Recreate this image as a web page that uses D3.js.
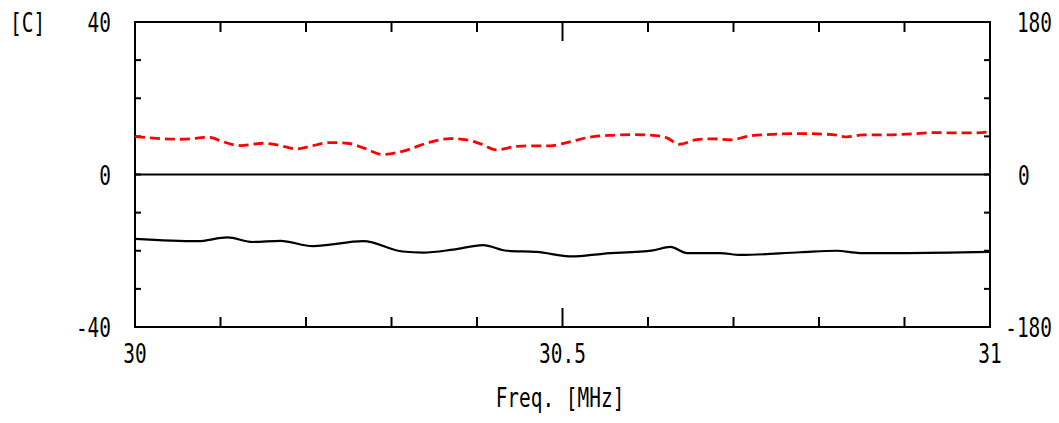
<!DOCTYPE html>
<html>
<head>
<meta charset="utf-8">
<script src="https://cdn.jsdelivr.net/npm/d3@7"></script>
<style>
  body { margin: 0; background: #fff; }
  text { font-family: "DejaVu Sans Mono", monospace; fill: #000; }
</style>
</head>
<body>
<div id="main-vis"></div>
<script>
// frequency axis ticks / labels
var xTicks = [30, 30.1, 30.2, 30.3, 30.4, 30.5, 30.6, 30.7, 30.8, 30.9, 31];
var xLabels = [30, 30.5, 31];
var yLeftTicks = [-40, -30, -20, -10, 0, 10, 20, 30, 40];
var yLeftLabels = [-40, 0, 40];
var yRightLabels = [-180, 0, 180];

// black solid trace (left axis, [C])
var magFreq = [30.000, 30.073, 30.108, 30.138, 30.170, 30.208, 30.267, 30.313, 30.337, 30.372,
  30.407, 30.435, 30.470, 30.511, 30.547, 30.606, 30.626, 30.646, 30.684, 30.708,
  30.778, 30.821, 30.848, 30.895, 31.000];
var magVal = [-16.9, -17.5, -16.5, -17.7, -17.4, -18.8, -17.5, -20.2, -20.5, -19.7,
  -18.5, -20.0, -20.3, -21.5, -20.8, -19.9, -19.0, -20.6, -20.6, -21.1,
  -20.4, -20.0, -20.6, -20.6, -20.3];

// red dashed trace (right axis, degrees)
var phFreq = [30.000, 30.018, 30.053, 30.088, 30.099, 30.123, 30.150, 30.166, 30.189, 30.205,
  30.228, 30.248, 30.267, 30.290, 30.313, 30.345, 30.368, 30.388, 30.404, 30.423,
  30.447, 30.465, 30.485, 30.505, 30.536, 30.559, 30.582, 30.606, 30.622, 30.637,
  30.657, 30.676, 30.696, 30.719, 30.739, 30.778, 30.816, 30.833, 30.851, 30.880,
  30.915, 30.933, 30.957, 30.980, 31.000];
var phVal = [44.8, 43.2, 41.6, 43.9, 40.1, 34.2, 36.9, 35.0, 30.3, 33.3,
  37.7, 36.9, 31.5, 23.6, 27.4, 38.1, 42.4, 40.9, 36.2, 29.1,
  33.3, 33.8, 33.8, 37.7, 44.8, 46.3, 47.1, 46.3, 43.2, 35.7,
  41.2, 42.1, 40.9, 45.6, 47.1, 48.3, 47.1, 44.4, 46.8, 46.8,
  48.3, 49.5, 49.1, 49.1, 50.3];

var W = 1059, H = 423;
var L = 135, R = 990, T = 22, B = 327;

var svg = d3.select("#main-vis").append("svg")
  .attr("width", W).attr("height", H);

var x = d3.scaleLinear().domain([30, 31]).range([L, R]);
var yL = d3.scaleLinear().domain([-40, 40]).range([B, T]);
var yR = d3.scaleLinear().domain([-180, 180]).range([B, T]);

// condensed look: scale glyphs horizontally
function label(px, py, str, anchor) {
  svg.append("text")
    .attr("transform", "translate(" + px + "," + py + ") scale(0.72,1)")
    .attr("text-anchor", anchor)
    .style("font-size", "27px")
    .text(str);
}

var ink = svg.append("g").attr("stroke", "#000").attr("fill", "none");

// frame
ink.append("rect")
  .attr("x", L).attr("y", T).attr("width", R - L).attr("height", B - T)
  .attr("stroke-width", 2);

// zero line
ink.append("line")
  .attr("x1", L).attr("x2", R).attr("y1", yL(0)).attr("y2", yL(0))
  .attr("stroke-width", 2.2);

// left / right ticks
yLeftTicks.forEach(function (v) {
  ink.append("line").attr("x1", L).attr("x2", L + 6).attr("y1", yL(v)).attr("y2", yL(v)).attr("stroke-width", 2);
  ink.append("line").attr("x1", R - 6).attr("x2", R).attr("y1", yL(v)).attr("y2", yL(v)).attr("stroke-width", 2);
});

// top / bottom ticks
xTicks.forEach(function (v) {
  var len = (Math.abs(v - 30.5) < 1e-6) ? 19 : 10;
  ink.append("line").attr("x1", x(v)).attr("x2", x(v)).attr("y1", T).attr("y2", T + len).attr("stroke-width", 2);
  ink.append("line").attr("x1", x(v)).attr("x2", x(v)).attr("y1", B).attr("y2", B - len).attr("stroke-width", 2);
});

// traces
var magLine = d3.line()
  .x(function (d, i) { return x(magFreq[i]); })
  .y(function (d) { return yL(d); })
  .curve(d3.curveMonotoneX);

var phLine = d3.line()
  .x(function (d, i) { return x(phFreq[i]); })
  .y(function (d) { return yR(d); })
  .curve(d3.curveMonotoneX);

svg.append("path").datum(magVal)
  .attr("d", magLine)
  .attr("fill", "none").attr("stroke", "#000").attr("stroke-width", 2.2);

svg.append("path").datum(phVal)
  .attr("d", phLine)
  .attr("fill", "none").attr("stroke", "#ff0000").attr("stroke-width", 2.8)
  .attr("stroke-dasharray", "10,5");

// labels
yLeftLabels.forEach(function (v) { label(111, yL(v) + 10, String(v), "end"); });
yRightLabels.forEach(function (v) {
  if (v === 0) label(1018, yR(v) + 10, String(v), "start");
  else label(1052, yR(v) + 10, String(v), "end");
});
xLabels.forEach(function (v) { label(x(v), 363, String(v), "middle"); });

label(10, 32, "[C]", "start");
label(560, 407, "Freq. [MHz]", "middle");
</script>
</body>
</html>
